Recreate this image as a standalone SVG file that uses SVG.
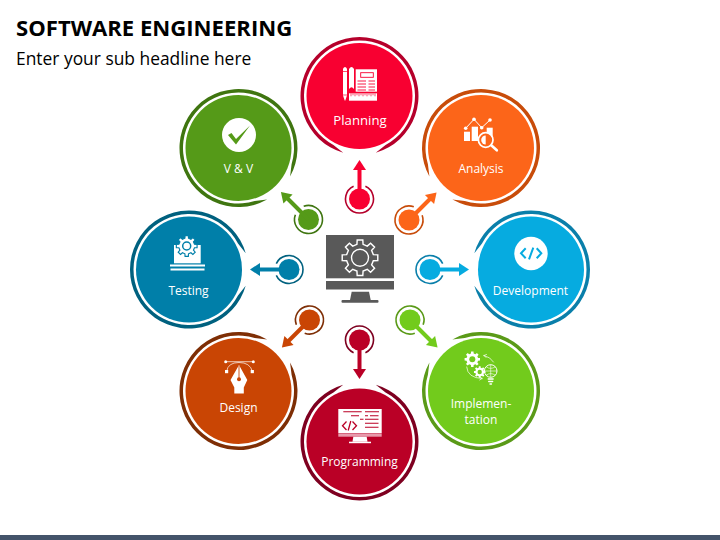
<svg xmlns="http://www.w3.org/2000/svg" xmlns:xlink="http://www.w3.org/1999/xlink" width="720" height="540" viewBox="0 0 720 540">
<style>
text{font-family:"Open Sans","Liberation Sans",sans-serif}
.lb{font-size:12px;font-weight:500;fill:#fff;text-anchor:middle}
.w{fill:#fff}
.ws{fill:none;stroke:#fff;stroke-linecap:round;stroke-linejoin:round}
</style>
<defs>
<path id="ring" fill="currentColor" d="M-16.26 56.7A59 59 0 1 1 16.26 56.7L26.06 49A55.5 55.5 0 1 0-26.06 49Z"/>
<g id="hub">
<circle r="10.5"/>
<path fill="none" stroke="currentColor" stroke-width="1.6" d="M5.9-12.7A14 14 0 1 1-5.9-12.7"/>
<rect x="-2" y="-30" width="4" height="30"/>
<path d="M0-39L6.5-29H-6.500Z"/>
</g>
<path id="gear" d="M-1.71-7.41L-1.56-9.88 1.56-9.88 1.71-7.41 4.03-6.45 5.88-8.09 8.09-5.88 6.45-4.03 7.41-1.71 9.88-1.56 9.88 1.56 7.41 1.71 6.45 4.03 8.09 5.88 5.88 8.09 4.03 6.45 1.71 7.41 1.56 9.88-1.56 9.88-1.71 7.41-4.03 6.45-5.88 8.09-8.09 5.88-6.45 4.03-7.41 1.71-9.88 1.56-9.88-1.56-7.41-1.71-6.45-4.03-8.09-5.88-5.88-8.09-4.03-6.45Z"/>
</defs>
<rect width="720" height="540" fill="#fff"/>
<rect y="535" width="720" height="5" fill="#44546A"/>
<g id="title">
<text x="16" y="36" font-size="22.100" font-weight="700" fill="#000">SOFTWARE ENGINEERING</text>
<text x="16" y="65" font-size="17.400" fill="#000">Enter your sub headline here</text>
</g>
<g id="connectors">
<use xlink:href="#hub" href="#hub" transform="translate(359.500 199)" fill="#F80031" color="#B5002B"/>
<use xlink:href="#hub" href="#hub" transform="translate(409 220) rotate(45)" fill="#FC6519" color="#C84C0A"/>
<use xlink:href="#hub" href="#hub" transform="translate(430 269.500) rotate(90)" fill="#06ABE0" color="#0A7FAA"/>
<use xlink:href="#hub" href="#hub" transform="translate(410 320) rotate(135)" fill="#72CB1C" color="#5A9A18"/>
<use xlink:href="#hub" href="#hub" transform="translate(359.500 340) rotate(180)" fill="#BA0026" color="#7E0020"/>
<use xlink:href="#hub" href="#hub" transform="translate(309.500 320) rotate(225)" fill="#C94504" color="#7E2E05"/>
<use xlink:href="#hub" href="#hub" transform="translate(289 269.500) rotate(270)" fill="#007FA9" color="#00617F"/>
<use xlink:href="#hub" href="#hub" transform="translate(308.500 219.500) rotate(315)" fill="#559A18" color="#3F7510"/>
</g>
<g id="center">
<rect x="326" y="235" width="68" height="43.300" fill="#595959"/>
<rect x="326" y="281" width="68" height="8.500" fill="#595959"/>
<path d="M351.700 291.700H369L370.700 300H350Z" fill="#595959"/>
<rect x="341.500" y="300" width="37" height="2.800" rx="1" fill="#595959"/>
<use xlink:href="#gear" href="#gear" transform="translate(360 257.700) scale(1.8)" fill="none" stroke="#fff" stroke-width=".8"/>
<circle cx="360" cy="257.700" r="8.500" fill="none" stroke="#fff" stroke-width="1.400"/>
</g>
<g id="planning" color="#B5002B">
<circle cx="359.500" cy="96" r="53" fill="#F80031"/>
<use xlink:href="#ring" href="#ring" transform="translate(359.500 96)"/>
<path class="w" d="M343 68.500Q345 65.500 347 68.500V95.500L345.200 100.700H344.800L343 95.500Z"/>
<path d="M343 71.500H347M343 95H347" stroke="#F80031" stroke-width=".7"/>
<path class="w" d="M349 89V69Q351.500 65 354 69V89Q351.500 85.500 349 89Z"/>
<rect class="w" x="355.700" y="69.300" width="21.300" height="22.400"/>
<rect x="360.700" y="72.700" width="12.600" height="4.600" fill="#fff" stroke="#F80031" stroke-width=".9"/>
<path d="M357.500 81H366M368.500 81H375M357.500 84H366M368.500 84H375M357.500 87H366M368.500 87H375M357.500 90H366M368.500 90H375" stroke="#F80031" stroke-width=".9"/>
<rect class="w" x="349" y="93.300" width="28" height="7.400"/>
<path d="M351 93.300v3M353 93.300v2M355 93.300v3M357 93.300v2M359 93.300v3M361 93.300v2M363 93.300v3M365 93.300v2M367 93.300v3M369 93.300v2M371 93.300v3M373 93.300v2M375 93.300v3" stroke="#F80031" stroke-width=".7"/>
<text class="lb" x="360" y="125" style="font-size:13.200px">Planning</text>
</g>
<g id="analysis" color="#C84C0A">
<circle cx="481" cy="148" r="53" fill="#FC6519"/>
<use xlink:href="#ring" href="#ring" transform="translate(481 148) rotate(45)"/>
<rect class="w" x="464" y="131.700" width="6" height="9.300"/>
<rect class="w" x="471.700" y="126.700" width="6.300" height="14.300"/>
<rect class="w" x="486.700" y="127.700" width="6" height="12"/>
<path class="ws" stroke-width="1" d="M465.700 128.300L474 119.300 481.700 127.700 490 120"/>
<circle class="w" cx="465.700" cy="128.300" r="1.800"/><circle class="w" cx="474" cy="119.300" r="1.800"/><circle class="w" cx="481.700" cy="127.700" r="1.800"/><circle class="w" cx="490" cy="120" r="1.800"/>
<circle cx="485.700" cy="140" r="7.300" fill="#FC6519" stroke="#fff" stroke-width="1.700"/>
<path class="w" d="M485.700 135.500A4.500 4.500 0 0 0 485.700 144.500Z"/>
<path class="ws" stroke-width="2.600" d="M491.500 145.500L496.800 150.300"/>
<text class="lb" x="481" y="172.700">Analysis</text>
</g>
<g id="development" color="#0A7FAA">
<circle cx="531" cy="269.500" r="53" fill="#06ABE0"/>
<use xlink:href="#ring" href="#ring" transform="translate(531 269.500) rotate(90)"/>
<circle class="w" cx="531" cy="253.500" r="16.700"/>
<path d="M525.700 248.300L521 253.300 525.700 258.300M536.700 248.300L541.300 253.300 536.700 258.300M533.300 247.700L529 259.300" fill="none" stroke="#06ABE0" stroke-width="2"/>
<text class="lb" x="530.500" y="295">Development</text>
</g>
<g id="implementation" color="#5A9A18">
<circle cx="481" cy="391" r="53" fill="#72CB1C"/>
<use xlink:href="#ring" href="#ring" transform="translate(481 391) rotate(135)"/>
<use xlink:href="#gear" href="#gear" class="w" transform="translate(472.300 359.300) scale(.78)"/>
<circle cx="472.300" cy="359.300" r="3" fill="#72CB1C"/>
<use xlink:href="#gear" href="#gear" class="w" transform="translate(479.700 372) scale(.58)"/>
<circle cx="479.700" cy="372" r="2.200" fill="#72CB1C"/>
<circle cx="490.700" cy="371" r="6.300" fill="none" stroke="#fff" stroke-width="1"/>
<path class="ws" stroke-width=".6" d="M484.800 371H496.600M490.700 365V377M486.500 367Q490.700 370 495 367M486.500 375Q490.700 372 495 375"/>
<path class="ws" stroke-width="1.300" d="M488.200 379H493.200M488.700 381.500H492.700M490 384H491.500"/>
<path class="ws" stroke-width=".7" d="M484 355.500Q490.500 357 493.500 362M484 355.500L486.500 354.500M484 355.500L486 357.500M466.700 367Q467.500 378 482 378.500M482 378.500L479.700 376.700M482 378.500L479.700 380"/>
<text class="lb" x="481" y="407.700">Implemen-</text>
<text class="lb" x="481" y="424">tation</text>
</g>
<g id="programming" color="#7E0020">
<circle cx="359.500" cy="441.500" r="53" fill="#BA0026"/>
<use xlink:href="#ring" href="#ring" transform="translate(359.500 441.500) rotate(180)"/>
<rect class="w" x="338.300" y="409" width="43.400" height="24.200"/>
<rect x="338.300" y="433.500" width="43.400" height="3.200" fill="#E89AAB"/>
<path class="w" d="M353.300 436.700H366.700L367.500 441.700H352.500Z"/>
<rect class="w" x="349" y="441.700" width="22" height="1.500"/>
<path d="M343.300 411.800H361.700M365 411.800H379M351 415.800H359M365 415.800H368M370 415.800H378.500M360 419.300H363.500M365 419.300H378.500M365 423.300H378.500M365 427.300H378.500" stroke="#BA0026" stroke-width="1.100" fill="none"/>
<path d="M346.500 421.500L342.500 425.700 346.500 430M352.500 421.500L356.500 425.700 352.500 430M350.800 421L348.200 430.500" fill="none" stroke="#BA0026" stroke-width="1.300"/>
<text class="lb" x="359.500" y="465.700">Programming</text>
</g>
<g id="design" color="#7E2E05">
<circle cx="238.500" cy="391" r="53" fill="#C94504"/>
<use xlink:href="#ring" href="#ring" transform="translate(238.500 391) rotate(225)"/>
<path class="ws" stroke-width=".7" d="M226 361.700H253M226.700 371Q228 362.500 239 362.500T252.300 371"/>
<circle class="w" cx="225.700" cy="361.700" r="1.500"/><circle class="w" cx="253.300" cy="361.700" r="1.500"/>
<rect class="w" x="225" y="370" width="3.200" height="3.200"/><rect class="w" x="250.700" y="370" width="3.200" height="3.200"/>
<path class="w" d="M239 365L247.300 380 243.800 387.500V393.500H234.300V387.500L230.500 380Z"/>
<path d="M239 366V379" stroke="#C94504" stroke-width=".9"/>
<circle cx="239" cy="379.300" r="2" fill="#C94504"/>
<text class="lb" x="238.500" y="411.700">Design</text>
</g>
<g id="testing" color="#00617F">
<circle cx="189" cy="269.500" r="53" fill="#007FA9"/>
<use xlink:href="#ring" href="#ring" transform="translate(189 269.500) rotate(270)"/>
<rect class="w" x="174" y="245" width="26.700" height="18.300"/>
<rect class="w" x="170" y="264.500" width="35" height="2"/>
<rect class="w" x="170.500" y="268.500" width="34" height="2"/>
<use xlink:href="#gear" href="#gear" transform="translate(186.700 246) scale(1.050)" fill="#fff" stroke="#007FA9" stroke-width="1.100"/>
<circle cx="186.700" cy="246" r="4" fill="#fff" stroke="#007FA9" stroke-width="1.500"/>
<text class="lb" x="188.500" y="295">Testing</text>
</g>
<g id="vv" color="#3F7510">
<circle cx="238.500" cy="148" r="53" fill="#559A18"/>
<use xlink:href="#ring" href="#ring" transform="translate(238.500 148) rotate(315)"/>
<circle class="w" cx="239" cy="135" r="17"/>
<path d="M228 135L231.500 133 236 139 250 125.500 236 144.500Z" fill="#559A18"/>
<text class="lb" x="238.500" y="173">V &amp; V</text>
</g>
</svg>
